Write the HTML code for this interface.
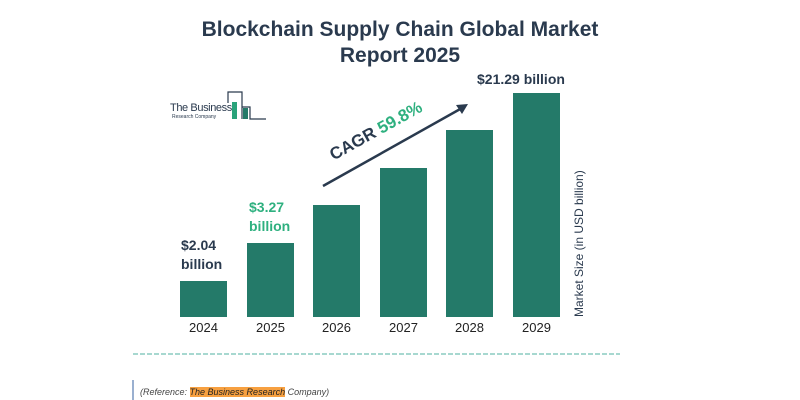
<!DOCTYPE html>
<html><head><style>
body{margin:0;width:800px;height:400px;background:#fff;overflow:hidden;position:relative;font-family:"Liberation Sans",sans-serif}
.t{position:absolute;white-space:nowrap}
.bar{position:absolute;background:#247a69;width:47px}
.yr{position:absolute;top:320px;width:47px;text-align:center;font-size:13px;color:#222}
</style></head><body>
<div class="t" style="left:0;width:800px;text-align:center;top:17px;font-size:21px;font-weight:bold;color:#2a3a4e;line-height:26px">Blockchain Supply Chain Global Market<br>Report 2025</div>
<svg style="position:absolute;left:0;top:0" width="800" height="400">
<polyline points="228,103 228,92 242,92 242,119" fill="none" stroke="#2a3a4e" stroke-width="1.2"/>
<rect x="232" y="102" width="5" height="17" fill="#2aa37a"/>
<polyline points="242,107 250,107 250,119 266,119" fill="none" stroke="#2a3a4e" stroke-width="1.2"/>
<rect x="243" y="108" width="5" height="11" fill="#247a69"/>
<line x1="323" y1="186" x2="462" y2="108" stroke="#2a3a4e" stroke-width="2.5"/>
<polygon points="468,104 456,105 462,114" fill="#2a3a4e"/>
<line x1="133" y1="354" x2="620" y2="354" stroke="#4fb0a0" stroke-width="1" stroke-dasharray="5,2"/>
<line x1="133" y1="380" x2="133" y2="400" stroke="#9ab0d0" stroke-width="2"/>
</svg>
<div class="t" style="left:170px;top:102px;font-size:11px;letter-spacing:-0.4px;color:#2a3a4e">The Business</div>
<div class="t" style="left:172px;top:114px;font-size:5px;color:#2a3a4e">Research Company</div>
<div class="t" style="left:336px;top:145px;font-size:17px;font-weight:bold;color:#2a3a4e;transform:rotate(-29deg);transform-origin:left bottom">CAGR <span style="color:#2eb07f">59.8%</span></div>
<div class="bar" style="left:180px;top:281px;height:36px"></div>
<div class="bar" style="left:247px;top:243px;height:74px"></div>
<div class="bar" style="left:313px;top:205px;height:112px"></div>
<div class="bar" style="left:380px;top:168px;height:149px"></div>
<div class="bar" style="left:446px;top:130px;height:187px"></div>
<div class="bar" style="left:513px;top:93px;height:224px"></div>
<div class="yr" style="left:180px">2024</div><div class="yr" style="left:247px">2025</div><div class="yr" style="left:313px">2026</div><div class="yr" style="left:380px">2027</div><div class="yr" style="left:446px">2028</div><div class="yr" style="left:513px">2029</div>
<div class="t" style="left:181px;top:236px;font-size:14px;font-weight:bold;color:#2a3a4e;line-height:19px">$2.04<br>billion</div>
<div class="t" style="left:249px;top:198px;font-size:14px;font-weight:bold;color:#2eb07f;line-height:19px">$3.27<br>billion</div>
<div class="t" style="left:477px;top:71px;font-size:14px;font-weight:bold;color:#2a3a4e">$21.29 billion</div>
<div class="t" style="left:572px;top:317px;font-size:12px;color:#2a3a4e;transform:rotate(-90deg);transform-origin:left top">Market Size (in USD billion)</div>
<div class="t" style="left:140px;top:387px;font-size:9px;font-style:italic;color:#444">(Reference: <span style="background:#f7a040;color:#222">The Business Research</span> Company)</div>
</body></html>
